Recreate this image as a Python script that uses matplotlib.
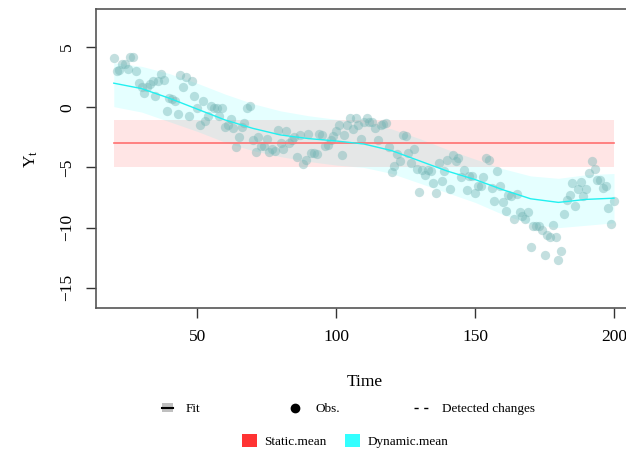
import numpy as np
import matplotlib
matplotlib.use('Agg')
import matplotlib.pyplot as plt
from matplotlib.patches import Patch
from matplotlib.lines import Line2D

plt.rcParams['font.family'] = 'Liberation Serif'
plt.rcParams['mathtext.fontset'] = 'custom'
plt.rcParams['mathtext.rm'] = 'Liberation Serif'
plt.rcParams['mathtext.it'] = 'Liberation Serif:italic'

# observacoes (t = 20..200)
tempo = np.arange(20, 201)
obs = [4.1, 3.0, 3.1, 3.6, 3.6, 3.2, 4.2, 4.2, 3.0, 2.0,
       1.7, 1.2, 1.7, 1.9, 2.2, 0.9, 2.2, 2.8, 2.3, -0.3,
       0.8, 0.7, 0.5, -0.6, 2.7, 1.7, 2.5, -0.7, 2.2, 0.9,
       -0.1, -1.5, 0.5, -1.1, -0.7, 0.1, -0.1, -0.1, -0.7, -0.1,
       -1.6, -1.5, -1.0, -1.7, -3.3, -2.5, -1.6, -1.3, -0.1, 0.1,
       -2.7, -3.7, -2.5, -3.2, -3.2, -2.6, -3.7, -3.5, -3.6, -1.9,
       -3.0, -3.5, -2.0, -3.0, -2.7, -2.5, -4.1, -2.3, -4.7, -4.4,
       -2.2, -3.8, -3.8, -3.9, -2.2, -2.3, -3.2, -3.1, -2.7, -2.4,
       -2.0, -1.5, -4.0, -2.3, -1.5, -0.9, -1.8, -0.9, -1.5, -2.6,
       -1.2, -0.9, -1.2,
       -1.2, -1.7, -2.7, -1.5, -1.4, -1.3, -3.3, -5.4, -4.9, -3.9,
       -4.5, -2.3, -2.4, -3.8, -4.6, -3.5, -5.1, -7.0, -5.2, -5.6,
       -5.2, -5.3, -6.3, -7.1, -4.6, -6.1, -5.3, -4.4, -6.8, -4.0,
       -4.5, -4.2, -5.8, -5.2, -6.9, -5.7, -5.7, -7.1, -6.5, -6.5,
       -5.8, -4.2, -4.4, -6.7, -7.8, -5.3, -6.5, -7.9, -8.6, -7.3,
       -7.4, -9.3, -7.2, -8.7, -9.0, -9.3, -8.7, -11.6, -9.9, -9.9,
       -9.9, -10.2, -12.3, -10.6, -10.8, -9.8, -10.8, -12.7, -11.9, -8.9,
       -7.7, -7.3, -6.3, -8.2, -6.8, -6.2, -7.4, -6.8, -5.5, -4.5,
       -5.1, -6.0, -6.0, -6.7, -6.5, -8.4, -9.7, -7.8]

# media dinamica (ajuste) e intervalo
t_fit = [20, 30, 40, 50, 60, 70, 80, 90, 100, 110, 120, 130, 140, 150, 160, 170, 180, 190, 200]
fit_din = [2.0, 1.55, 0.75, -0.15, -1.05, -1.75, -2.3, -2.6, -2.8, -3.05, -3.6, -4.45, -5.3, -6.0, -6.85, -7.6, -7.9, -7.65, -7.55]
sup_din = [3.7, 3.4, 2.8, 2.0, 1.1, 0.3, -0.3, -0.7, -1.0, -1.3, -1.8, -2.6, -3.5, -4.3, -5.1, -5.7, -5.9, -5.6, -5.5]
inf_din = [0.05, -0.4, -1.2, -2.0, -2.9, -3.6, -4.1, -4.5, -4.8, -5.0, -5.5, -6.3, -7.1, -7.9, -8.9, -9.7, -10.0, -9.8, -9.6]

# media estatica
t_est = [20, 200]
fit_est = [-3.0, -3.0]
sup_est = [-1.05, -1.05]
inf_est = [-5.0, -5.0]

fig = plt.figure(figsize=(6.26, 4.5), dpi=100)
ax = fig.add_axes([96/626, 142/450, (634-96)/626, 299/450])

ax.fill_between(t_est, inf_est, sup_est, color='red', alpha=0.1, linewidth=0)
ax.fill_between(t_fit, inf_din, sup_din, color='cyan', alpha=0.1, linewidth=0)
ax.plot(t_est, fit_est, color='#ff7070', linewidth=1.2)
ax.scatter(tempo, obs, s=45, color='#72b4b4', alpha=0.42, linewidths=0)
ax.plot(t_fit, fit_din, color='#22f0f0', linewidth=1.0)

ax.set_xlim(13.6, 207.2)
ax.set_ylim(-16.67, 8.16)
ax.set_xticks([50, 100, 150, 200])
ax.set_yticks([-15, -10, -5, 0, 5])
ax.set_yticklabels(['\u221215', '\u221210', '\u22125', '0', '5'], rotation=90, va='center')
ax.tick_params(length=7, width=1, color='#333333', labelsize=12.5, pad=8)
for s in ax.spines.values():
    s.set_color('#555555')
    s.set_linewidth(1.2)
ax.set_xlabel('Time', fontsize=12.5, labelpad=21)
ax.set_ylabel(r'$\mathrm{Y_t}$', fontsize=12.5, labelpad=14)

# legendas (uma por item para controlar a posicao)
itens = [
    ((Patch(facecolor='#c0c0c0', edgecolor='none'), Line2D([], [], color='black', linewidth=1.5)),
     'Fit', 162, 409, 0.8),
    (Line2D([], [], color='black', marker='o', linestyle='none', markersize=6), 'Obs.', 288, 409, 1.1),
    (Line2D([], [], color='black', linestyle=(0, (3, 4)), linewidth=1), 'Detected changes', 414, 409, 1.1),
    (Patch(facecolor='#ff3333', edgecolor='none'), 'Static.mean', 242, 441, 1.1),
    (Patch(facecolor='#33ffff', edgecolor='none'), 'Dynamic.mean', 345, 441, 1.1),
]
for h, txt, px, py, hl in itens:
    fig.legend([h], [txt], loc='center left', bbox_to_anchor=(px/626, 1 - py/450),
               frameon=False, fontsize=9.5, handlelength=hl, handleheight=1.2 if isinstance(h, Patch) else 0.7,
               handletextpad=0.6 if isinstance(h, Patch) else 1.0,
               borderpad=0, borderaxespad=0)

fig.savefig('out.png', dpi=100)
